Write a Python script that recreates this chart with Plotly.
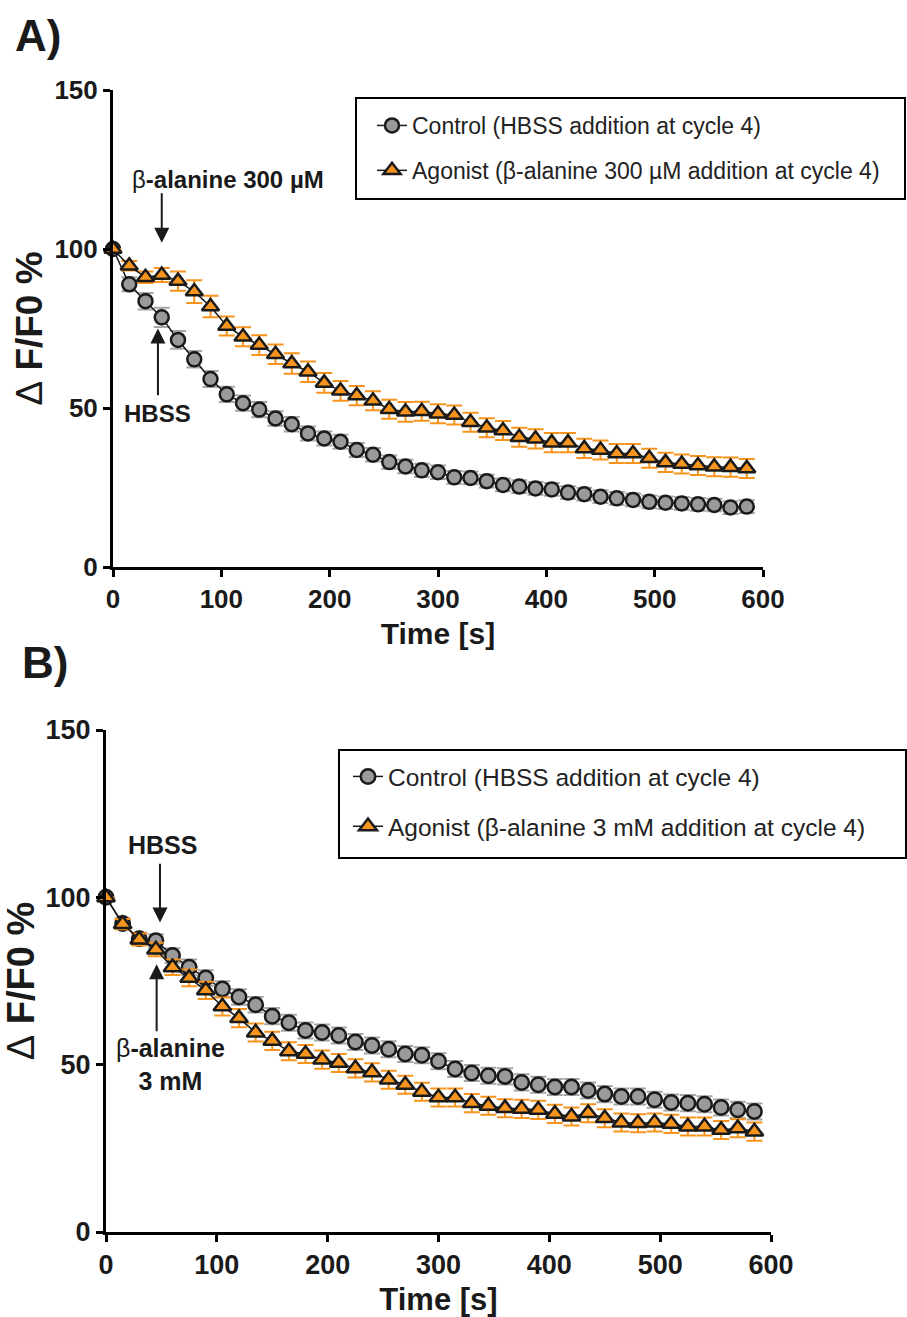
import plotly.graph_objects as go

W, H = 907, 1317

# ---------------- data ----------------
time_s = [0, 15, 30, 45, 60, 75, 90, 105, 120, 135, 150, 165, 180, 195, 210, 225, 240, 255, 270, 285,
          300, 315, 330, 345, 360, 375, 390, 405, 420, 435, 450, 465, 480, 495, 510, 525, 540, 555, 570, 585]

# Panel A
ctrl_a = [100.0, 88.9, 83.6, 78.5, 71.4, 65.3, 59.1, 54.3, 51.5, 49.5, 46.7, 44.9, 42.0, 40.4, 39.4, 36.8,
          35.3, 33.0, 31.6, 30.4, 29.8, 28.2, 28.0, 27.0, 25.8, 25.3, 24.7, 24.4, 23.4, 22.9, 22.1, 21.6,
          21.1, 20.5, 20.2, 20.0, 19.7, 19.5, 18.7, 19.0]
ctrl_a_sem = [0.0, 2.2, 2.6, 3.0, 2.8, 2.6, 2.5, 2.4, 2.4, 2.4, 2.3, 2.3, 2.2, 2.2, 2.2, 2.2,
              2.1, 2.1, 2.1, 2.1, 2.1, 2.0, 2.0, 2.0, 2.0, 2.0, 2.0, 2.0, 2.0, 2.0, 2.0, 2.0,
              2.0, 2.0, 2.0, 2.0, 2.0, 2.0, 2.0, 2.0]
ago_a = [100.0, 94.7, 91.1, 91.8, 89.9, 86.6, 81.9, 75.8, 72.4, 69.8, 66.9, 64.0, 61.4, 57.9, 55.4, 53.9,
         52.3, 49.6, 48.8, 49.0, 48.2, 47.8, 45.5, 43.8, 42.9, 40.8, 40.3, 39.1, 39.1, 37.3, 36.8, 35.7,
         35.7, 34.2, 32.9, 32.4, 31.9, 31.5, 31.4, 31.0]
ago_a_sem = [0.0, 1.5, 1.8, 2.2, 3.0, 3.6, 3.4, 3.0, 3.0, 3.1, 3.1, 3.2, 3.2, 3.1, 3.1, 3.0,
             3.0, 3.0, 3.1, 3.0, 3.0, 3.0, 3.0, 3.0, 3.0, 3.0, 3.0, 3.0, 3.0, 3.0, 3.0, 3.0,
             3.0, 3.0, 3.0, 3.0, 3.0, 3.0, 3.0, 3.0]

# Panel B
ctrl_b = [100.0, 92.2, 87.6, 87.0, 82.6, 79.1, 75.9, 72.6, 70.2, 67.9, 64.5, 62.5, 60.2, 59.6, 58.7, 56.8,
          55.7, 54.6, 53.2, 52.8, 51.0, 48.7, 47.5, 46.7, 46.5, 44.7, 44.0, 43.3, 43.3, 42.3, 41.2, 40.5,
          40.5, 39.5, 38.7, 38.5, 38.2, 37.2, 36.5, 36.0]
ctrl_b_sem = [0.0, 1.5, 1.8, 2.0, 2.2, 2.3, 2.3, 2.3, 2.3, 2.3, 2.4, 2.4, 2.4, 2.4, 2.4, 2.4,
              2.4, 2.4, 2.4, 2.4, 2.4, 2.4, 2.4, 2.4, 2.4, 2.4, 2.4, 2.4, 2.4, 2.4, 2.4, 2.4,
              2.4, 2.4, 2.4, 2.4, 2.4, 2.4, 2.4, 2.4]
ago_b = [100.0, 92.0, 87.4, 84.4, 79.1, 75.9, 72.2, 67.4, 63.9, 59.6, 57.1, 54.0, 53.2, 51.5, 50.5, 48.9,
         47.7, 45.5, 44.0, 41.9, 40.2, 40.2, 38.5, 37.7, 37.0, 36.8, 36.5, 35.3, 34.5, 35.5, 34.0, 32.7,
         32.5, 32.7, 32.3, 31.5, 31.5, 30.5, 31.0, 30.0]
ago_b_sem = [0.0, 1.5, 1.8, 2.0, 2.3, 2.5, 2.6, 2.7, 2.7, 2.7, 2.7, 2.7, 2.7, 2.7, 2.7, 2.7,
             2.7, 2.7, 2.7, 2.7, 2.7, 2.7, 2.7, 2.7, 2.7, 2.7, 2.7, 2.7, 2.7, 2.7, 2.7, 2.7,
             2.7, 2.7, 2.7, 2.7, 2.7, 2.7, 2.7, 2.7]

x_ticks = [0, 100, 200, 300, 400, 500, 600]
y_ticks = [0, 50, 100, 150]

legend_a = ["Control (HBSS addition at cycle 4)", "Agonist (\u03b2-alanine 300 \u00b5M addition at cycle 4)"]
legend_b = ["Control (HBSS addition at cycle 4)", "Agonist (\u03b2-alanine 3 mM addition at cycle 4)"]

# ---------------- style ----------------
GRAY = "#9a9a9a"
ORANGE = "#f7941d"
EDGE = "#1a1a1a"
FONT = "Liberation Sans, Arial, sans-serif"


def px(xp):
    return xp / W


def py(yp):
    return 1 - yp / H


fig = go.Figure()


def add_pair(ctrl, csem, ago, asem, names, xa, ya, leg, msize, grp):
    fig.add_trace(go.Scatter(
        x=time_s, y=ctrl, mode="lines+markers", name=names[0],
        xaxis=xa, yaxis=ya, legend=leg, legendgroup=grp + "c",
        line=dict(color=EDGE, width=1.5),
        marker=dict(symbol="circle", size=msize, color=GRAY, line=dict(color=EDGE, width=2.5)),
        error_y=dict(type="data", array=csem, visible=True, color="#a6a6a6", thickness=2, width=8),
        cliponaxis=False,
    ))
    fig.add_trace(go.Scatter(
        x=time_s, y=ago, mode="lines+markers", name=names[1],
        xaxis=xa, yaxis=ya, legend=leg, legendgroup=grp + "a",
        line=dict(color=EDGE, width=1.5),
        marker=dict(symbol="triangle-up", size=msize + 1, color=ORANGE, line=dict(color=EDGE, width=2.5)),
        error_y=dict(type="data", array=asem, visible=True, color=ORANGE, thickness=2, width=8),
        cliponaxis=False,
    ))


add_pair(ctrl_a, ctrl_a_sem, ago_a, ago_a_sem, legend_a, "x", "y", "legend", 14, "A")
add_pair(ctrl_b, ctrl_b_sem, ago_b, ago_b_sem, legend_b, "x2", "y2", "legend2", 14.5, "B")


def xaxis_cfg(domain, anchor, fsize, tsize, standoff):
    return dict(
        domain=domain, anchor=anchor, range=[0, 600], tickvals=x_ticks,
        showline=True, linewidth=3, linecolor="black", mirror=False,
        ticks="outside", ticklen=7, tickwidth=3, tickcolor="black",
        showgrid=False, zeroline=False, automargin=False,
        tickfont=dict(family=FONT, size=fsize, color="#1a1a1a", weight="bold"),
        title=dict(text="Time [s]", standoff=standoff,
                   font=dict(family=FONT, size=tsize, color="#1a1a1a", weight="bold")),
    )


def yaxis_cfg(domain, anchor, fsize, tsize, standoff):
    return dict(
        domain=domain, anchor=anchor, range=[0, 150], tickvals=y_ticks,
        showline=True, linewidth=3, linecolor="black", mirror=False,
        ticks="outside", ticklen=7, tickwidth=3, tickcolor="black",
        showgrid=False, zeroline=False, automargin=False,
        tickfont=dict(family=FONT, size=fsize, color="#1a1a1a", weight="bold"),
        title=dict(text="<span style='font-weight:normal'>\u0394</span> F/F0 %", standoff=standoff,
                   font=dict(family=FONT, size=tsize, color="#1a1a1a", weight="bold")),
    )


fig.update_layout(
    width=W, height=H,
    margin=dict(l=0, r=0, t=0, b=0),
    paper_bgcolor="white", plot_bgcolor="white",
    showlegend=True,
    xaxis=xaxis_cfg([px(113), px(763)], "y", 26, 30, 10),
    yaxis=yaxis_cfg([py(567), py(90)], "x", 26, 37, 1),
    xaxis2=xaxis_cfg([px(106), px(771)], "y2", 27, 31, 12),
    yaxis2=yaxis_cfg([py(1232), py(730)], "x2", 27, 38, 3),
    legend=dict(x=px(372), y=py(104), xanchor="left", yanchor="top",
                bgcolor="rgba(0,0,0,0)", borderwidth=0, itemwidth=30,
                tracegroupgap=12, font=dict(family=FONT, size=23, color="#222222")),
    legend2=dict(x=px(348), y=py(754), xanchor="left", yanchor="top",
                 bgcolor="rgba(0,0,0,0)", borderwidth=0, itemwidth=30,
                 tracegroupgap=15, font=dict(family=FONT, size=24.5, color="#222222")),
    shapes=[
        dict(type="rect", xref="paper", yref="paper", x0=px(356), x1=px(905), y0=py(199), y1=py(98),
             line=dict(color="black", width=2)),
        dict(type="rect", xref="paper", yref="paper", x0=px(339), x1=px(906), y0=py(858), y1=py(750),
             line=dict(color="black", width=2)),
    ],
)

ann_font_a = dict(family=FONT, size=24, color="#1a1a1a", weight="bold")
ann_font_b = dict(family=FONT, size=25, color="#1a1a1a", weight="bold")
annotations = [
    # panel labels
    dict(xref="paper", yref="paper", x=px(13), y=py(35), text="A)", showarrow=False,
         xanchor="left", yanchor="middle", font=dict(family=FONT, size=44, color="#1a1a1a", weight="bold")),
    dict(xref="paper", yref="paper", x=px(20), y=py(662), text="B)", showarrow=False,
         xanchor="left", yanchor="middle", font=dict(family=FONT, size=44, color="#1a1a1a", weight="bold")),
    # panel A
    dict(xref="x", yref="y", x=106, y=121.7, text="<span style='font-weight:normal'>\u03b2</span>-alanine 300 \u00b5M",
         showarrow=False, font=ann_font_a),
    dict(xref="x", yref="y", x=45, y=102, axref="x", ayref="y", ax=45, ay=118, text="",
         showarrow=True, arrowhead=2, arrowsize=1.5, arrowwidth=2, arrowcolor="#1a1a1a"),
    dict(xref="x", yref="y", x=41.5, y=75, axref="x", ayref="y", ax=41.5, ay=53.5, text="",
         showarrow=True, arrowhead=2, arrowsize=1.5, arrowwidth=2, arrowcolor="#1a1a1a"),
    dict(xref="x", yref="y", x=41.5, y=48.3, text="HBSS", showarrow=False, font=ann_font_a),
    # panel B
    dict(xref="x2", yref="y2", x=51, y=115.5, text="HBSS", showarrow=False, font=ann_font_b),
    dict(xref="x2", yref="y2", x=48.7, y=92.5, axref="x2", ayref="y2", ax=48.7, ay=110.5, text="",
         showarrow=True, arrowhead=2, arrowsize=1.5, arrowwidth=2, arrowcolor="#1a1a1a"),
    dict(xref="x2", yref="y2", x=45.7, y=80, axref="x2", ayref="y2", ax=45.7, ay=59.5, text="",
         showarrow=True, arrowhead=2, arrowsize=1.5, arrowwidth=2, arrowcolor="#1a1a1a"),
    dict(xref="x2", yref="y2", x=58, y=50, text="<span style='font-weight:normal'>\u03b2</span>-alanine<br>3 mM",
         showarrow=False, align="center", font=ann_font_b),
]
fig.update_layout(annotations=annotations)

fig.write_html("out.html", config={"displayModeBar": False},
               post_script="document.body.style.margin='0px';")
